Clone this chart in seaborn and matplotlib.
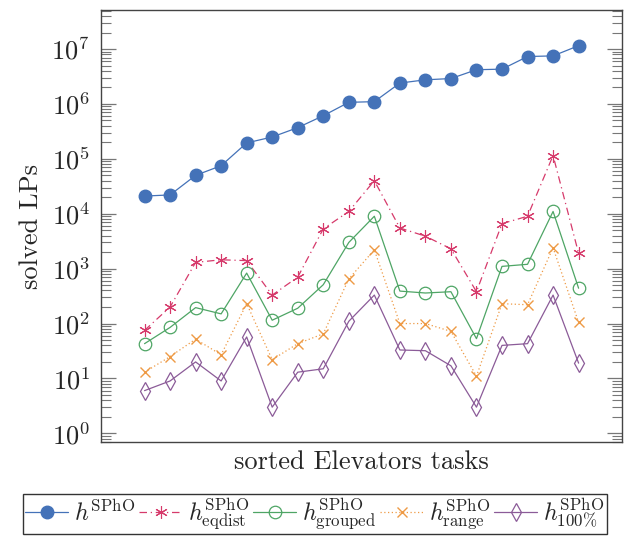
import numpy as np
import pandas as pd
import matplotlib
matplotlib.use("Agg")
import matplotlib.pyplot as plt
import seaborn as sns
from matplotlib.ticker import LogLocator, NullFormatter, NullLocator

sns.set_theme(style="ticks")
plt.rcParams["font.family"] = "serif"
plt.rcParams["font.serif"] = ["cmr10", "DejaVu Serif"]
plt.rcParams["mathtext.fontset"] = "cm"
plt.rcParams["axes.formatter.use_mathtext"] = True

# solved LPs per Elevators task (sorted by h^SPhO)
tasks = np.arange(18)
sph = [2.1e4, 2.2e4, 5.0e4, 7.5e4, 1.95e5, 2.5e5, 3.7e5, 6.1e5, 1.07e6, 1.1e6,
       2.4e6, 2.75e6, 2.9e6, 4.2e6, 4.3e6, 7.3e6, 7.5e6, 1.15e7]
eqdist = [75, 200, 1300, 1450, 1400, 330, 700, 5300, 11000, 40000,
          5500, 3900, 2300, 380, 6600, 9000, 115000, 1900]
grouped = [43, 85, 195, 150, 830, 115, 190, 510, 3000, 9000,
           390, 360, 380, 53, 1100, 1200, 11000, 440]
rng = [13, 25, 52, 27, 230, 22, 43, 65, 650, 2200,
       100, 100, 72, 11, 230, 220, 2400, 105]
full = [6, 9, 20, 9, 57, 3, 13, 15, 110, 330,
        33, 32, 17, 3, 40, 43, 330, 19]

# values, label, colour, marker, linestyle, markersize, filled, marker edge width
series = [
    (sph, r"$h^{\mathrm{SPhO}}$", "#4472b8", "o", "-", 9, True, 1.0),
    (eqdist, r"$h^{\mathrm{SPhO}}_{\mathrm{eqdist}}$", "#d63a6b", (6, 2, 0), (0, (6, 3, 1, 3)), 9, True, 0.8),
    (grouped, r"$h^{\mathrm{SPhO}}_{\mathrm{grouped}}$", "#4ea565", "o", "-", 9, False, 0.9),
    (rng, r"$h^{\mathrm{SPhO}}_{\mathrm{range}}$", "#ee9a45", "x", (0, (1, 2)), 7, True, 1.0),
    (full, r"$h^{\mathrm{SPhO}}_{100\%}$", "#8b5b98", "d", "-", 9, False, 0.9),
]

fig = plt.figure(figsize=(6.36, 5.36), dpi=100)
ax = fig.add_axes([0.159, 0.175, 0.819, 0.806])

for vals, lab, col, mk, ls, ms, filled, mew in series:
    sns.lineplot(x=tasks, y=vals, ax=ax, color=col, marker=mk, linestyle=ls,
                 linewidth=0.9, markersize=ms, label=lab, sort=False,
                 markerfacecolor=col if filled else "none",
                 markeredgecolor=col, markeredgewidth=mew)

ax.set_yscale("log")
ax.set_ylim(0.69, 5.1e7)
ax.set_xlim(-1.7, 18.7)
ax.xaxis.set_major_locator(NullLocator())
ax.yaxis.set_major_locator(LogLocator(base=10, numticks=12))
ax.yaxis.set_minor_locator(LogLocator(base=10, subs=np.arange(2, 10), numticks=12))
ax.yaxis.set_minor_formatter(NullFormatter())
ax.tick_params(axis="y", which="both", direction="in", left=True, right=True,
               color="#777777", labelsize=19, pad=8)
ax.tick_params(axis="y", which="major", length=11, width=0.9)
ax.tick_params(axis="y", which="minor", length=7, width=0.8)
for s in ax.spines.values():
    s.set_color("#444444")
    s.set_linewidth(1.0)

ax.set_ylabel("solved LPs", fontsize=19, labelpad=6)
ax.set_xlabel("sorted Elevators tasks", fontsize=19, labelpad=6)

handles, labels = ax.get_legend_handles_labels()
ax.get_legend().remove()
leg = fig.legend(handles, labels, loc="upper left", bbox_to_anchor=(0.0357, 0.0785),
                 ncol=5, fontsize=17.3, frameon=True, fancybox=False,
                 edgecolor="black", borderaxespad=0, handlelength=1.8,
                 handletextpad=0.25, columnspacing=0.15, borderpad=0.1)
leg.get_frame().set_linewidth(1.0)

fig.savefig("out.png", dpi=100)
